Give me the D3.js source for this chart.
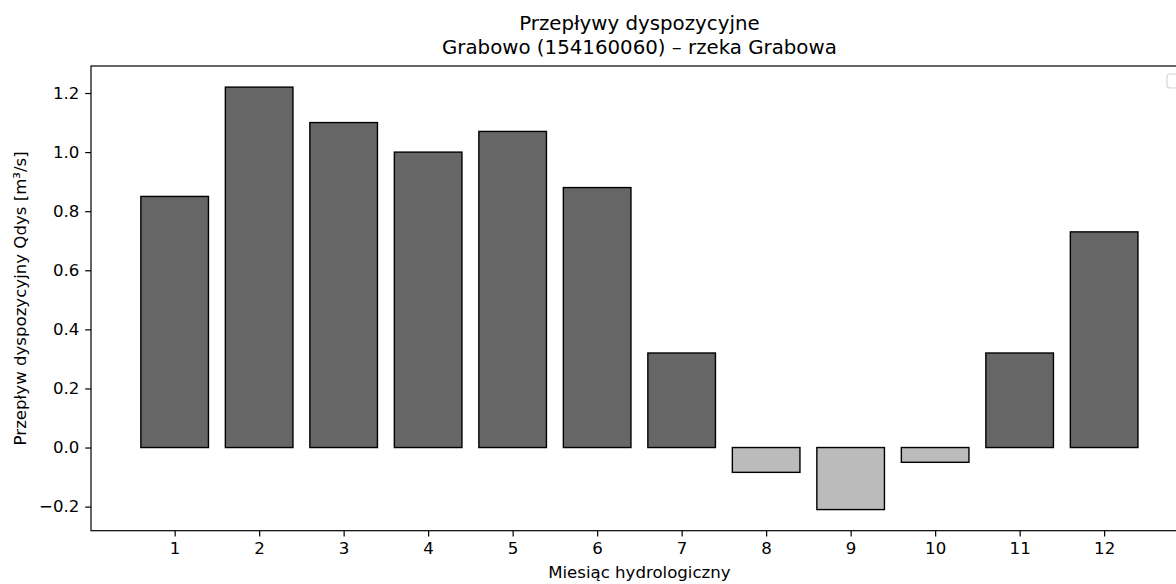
<!DOCTYPE html>
<html><head><meta charset="utf-8">
<script src="https://cdn.jsdelivr.net/npm/d3@7"></script>
<style>
html,body{margin:0;padding:0;background:#fff;overflow:hidden}
text{font-family:"DejaVu Sans",sans-serif;fill:#000}
</style></head>
<body>
<svg id="chart" width="1176" height="584"></svg>
<script>
const months = [1,2,3,4,5,6,7,8,9,10,11,12];
const qdys = [0.85,1.22,1.10,1.00,1.07,0.88,0.32,-0.084,-0.21,-0.05,0.32,0.73];
const yTicks = [-0.2,0.0,0.2,0.4,0.6,0.8,1.0,1.2];
const titleLines = ["Przepływy dyspozycyjne","Grabowo (154160060) – rzeka Grabowa"];
const xLabel = "Miesiąc hydrologiczny";
const yLabel = "Przepływ dyspozycyjny Qdys [m³/s]";

const svg = d3.select("#chart");
const L = 91, T = 66, B = 530.7, R = 1187.8;
const barW = 0.8;

const xMin = d3.min(months) - barW/2, xMax = d3.max(months) + barW/2;
const xPad = (xMax - xMin) * 0.05;
const x = d3.scaleLinear().domain([xMin - xPad, xMax + xPad]).range([L, R]);

const yLo = Math.min(0, d3.min(qdys)), yHi = Math.max(0, d3.max(qdys));
const yPad = (yHi - yLo) * 0.05;
const y = d3.scaleLinear().domain([yLo - yPad, yHi + yPad]).range([B, T]);

// bars
svg.append("g").selectAll("rect").data(months.map((m,i)=>({m, v:qdys[i]}))).join("rect")
  .attr("x", d => x(d.m - barW/2))
  .attr("width", d => x(d.m + barW/2) - x(d.m - barW/2))
  .attr("y", d => y(Math.max(0, d.v)))
  .attr("height", d => Math.abs(y(d.v) - y(0)))
  .attr("fill", d => d.v >= 0 ? "#666666" : "#bbbbbb")
  .attr("stroke", "#000")
  .attr("stroke-width", 1.4);

// axes
const fs = 16.6;
const xAxis = svg.append("g").attr("transform", `translate(0,${B})`)
  .call(d3.axisBottom(x).tickValues(months).tickFormat(d3.format("d")).tickSize(5.8).tickPadding(5.8));
const yAxis = svg.append("g").attr("transform", `translate(${L},0)`)
  .call(d3.axisLeft(y).tickValues(yTicks).tickFormat(d3.format(".1f")).tickSize(5.8).tickPadding(5.8));
[xAxis, yAxis].forEach(g => {
  g.select(".domain").remove();
  g.selectAll(".tick line").attr("stroke", "#000").attr("stroke-width", 1.2);
  g.selectAll(".tick text").attr("font-size", fs).attr("font-family", "DejaVu Sans").attr("fill", "#000");
});

// spines
const sp = svg.append("g").attr("stroke", "#000").attr("stroke-width", 1.2).attr("fill", "none");
sp.append("rect").attr("x", L).attr("y", T).attr("width", R - L).attr("height", B - T);

// empty legend frame (upper right)
svg.append("rect").attr("x", 1167).attr("y", 74).attr("width", 40).attr("height", 14)
  .attr("rx", 3).attr("fill", "#fff").attr("stroke", "#d4d4d4").attr("stroke-width", 1.2);

// title
const cx = (L + R) / 2;
svg.append("text").attr("x", cx).attr("y", 29.5).attr("text-anchor", "middle").attr("font-size", 19.8).text(titleLines[0]);
svg.append("text").attr("x", cx).attr("y", 53.5).attr("text-anchor", "middle").attr("font-size", 19.8).text(titleLines[1]);

// axis labels
svg.append("text").attr("x", cx).attr("y", 578).attr("text-anchor", "middle").attr("font-size", fs).text(xLabel);
svg.append("text").attr("transform", `translate(26,${(T + B) / 2}) rotate(-90)`)
  .attr("text-anchor", "middle").attr("font-size", fs).text(yLabel);
</script>
</body></html>
